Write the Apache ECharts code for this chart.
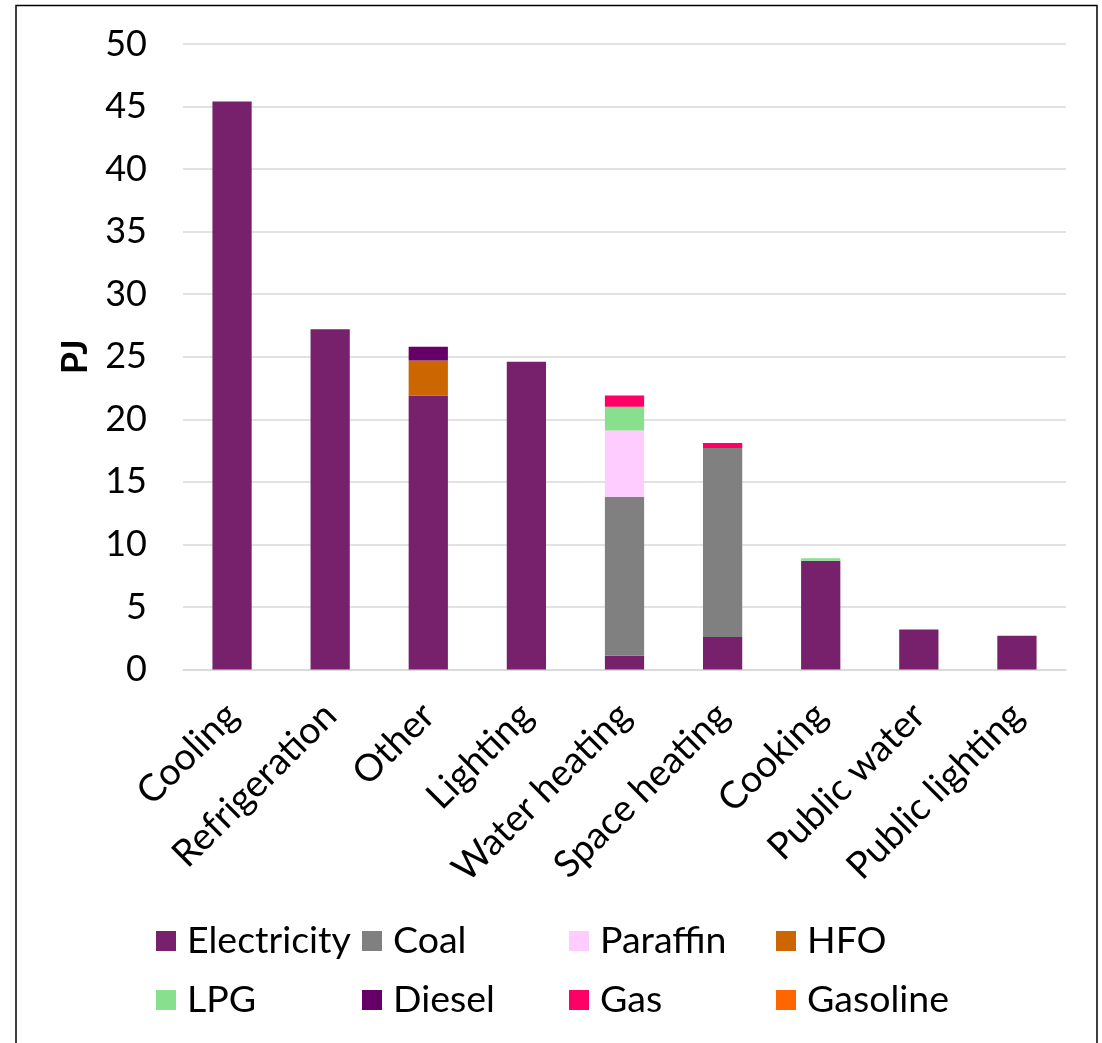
<!DOCTYPE html>
<html>
<head>
<meta charset="utf-8">
<script src="https://cdn.jsdelivr.net/npm/echarts@6/dist/echarts.min.js"></script>
<style>
  html, body { margin: 0; padding: 0; background: #ffffff; }
  #chart { width: 1102px; height: 1043px; }
</style>
</head>
<body>
<div id="chart"></div>
<script>
// End-use energy demand by fuel (PJ)
const categories = ['Cooling', 'Refrigeration', 'Other', 'Lighting', 'Water heating',
                    'Space heating', 'Cooking', 'Public water', 'Public lighting'];

const electricity = [45.4, 27.2, 21.9, 24.6, 1.1, 2.6, 8.7, 3.2, 2.7];
const coal        = [0, 0, 0, 0, 12.7, 15.1, 0, 0, 0];
const paraffin    = [0, 0, 0, 0, 5.3, 0, 0, 0, 0];
const hfo         = [0, 0, 2.8, 0, 0, 0, 0, 0, 0];
const lpg         = [0, 0, 0, 0, 1.9, 0, 0.2, 0, 0];
const diesel      = [0, 0, 1.1, 0, 0, 0, 0, 0, 0];
const gas         = [0, 0, 0, 0, 0.9, 0.4, 0, 0, 0];
const gasoline    = [0, 0, 0, 0, 0, 0, 0, 0, 0];

const yTicks = { min: 0, max: 50, interval: 5 };

const fuels = [
  { name: 'Electricity', data: electricity, color: '#77206B' },
  { name: 'Coal',        data: coal,        color: '#808080' },
  { name: 'Paraffin',    data: paraffin,    color: '#FFCCFF' },
  { name: 'HFO',         data: hfo,         color: '#CC6600' },
  { name: 'LPG',         data: lpg,         color: '#88E08F' },
  { name: 'Diesel',      data: diesel,      color: '#660066' },
  { name: 'Gas',         data: gas,         color: '#FF0066' },
  { name: 'Gasoline',    data: gasoline,    color: '#FF6600' }
];

const FONT = 'Lato, "Noto Sans", sans-serif';

// Legend laid out as a 4 x 2 grid of single-entry legends
const legendCols = [156, 362, 569, 776];
const legendRows = [919, 978];
const legends = fuels.map((f, i) => ({
  data: [f.name],
  left: legendCols[i % 4],
  top: legendRows[Math.floor(i / 4)],
  padding: 0,
  icon: 'rect',
  itemWidth: 20,
  itemHeight: 20,
  selectedMode: false,
  textStyle: {
    fontFamily: FONT,
    fontSize: 37.5,
    color: '#000',
    lineHeight: 44,
    padding: [0, 0, 0, 6]
  }
}));

const chart = echarts.init(document.getElementById('chart'), null, { renderer: 'canvas' });

chart.setOption({
  backgroundColor: '#ffffff',
  animation: false,
  graphic: [{
    type: 'rect',
    shape: { x: 16, y: 5.5, width: 1081, height: 1100 },
    style: { fill: 'none', stroke: '#000', lineWidth: 1.5 },
    silent: true,
    z: 100
  }],
  legend: legends,
  grid: { left: 183, right: 36, top: 44, bottom: 373.5 },
  xAxis: {
    type: 'category',
    data: categories,
    axisLine: { lineStyle: { color: '#D9D9D9', width: 1.5 } },
    axisTick: { show: false },
    axisLabel: {
      interval: 0,
      rotate: 45,
      margin: 40,
      fontFamily: FONT,
      fontSize: 37.5,
      color: '#000'
    }
  },
  yAxis: {
    type: 'value',
    min: yTicks.min,
    max: yTicks.max,
    interval: yTicks.interval,
    name: 'PJ',
    nameLocation: 'middle',
    nameRotate: 90,
    nameGap: 90,
    nameTextStyle: { fontFamily: FONT, fontSize: 36, fontWeight: 'bold', color: '#000' },
    axisLine: { show: false },
    axisTick: { show: false },
    axisLabel: { margin: 36, fontFamily: FONT, fontSize: 36, color: '#000' },
    splitLine: { lineStyle: { color: '#D9D9D9', width: 1.5 } }
  },
  series: fuels.map(f => ({
    name: f.name,
    type: 'bar',
    stack: 'total',
    barWidth: '40%',
    data: f.data,
    itemStyle: { color: f.color }
  }))
});
</script>
</body>
</html>
